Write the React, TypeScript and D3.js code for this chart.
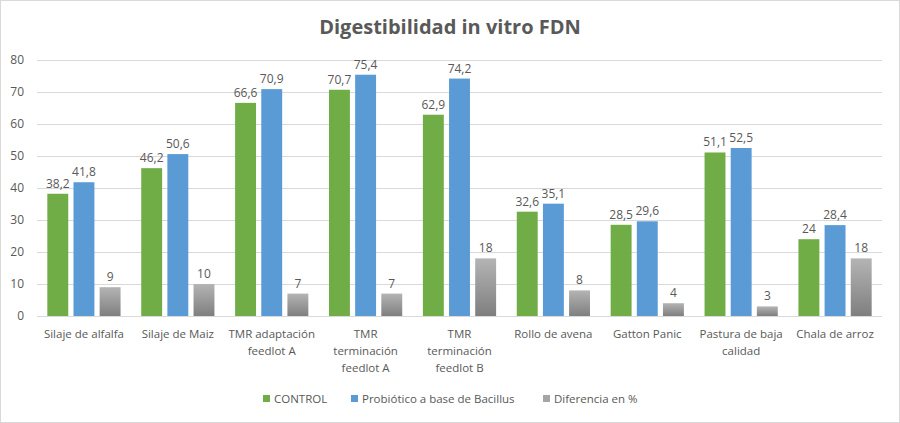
import { useEffect, useRef } from 'react';
import * as d3 from 'd3';

const categories = [
  'Silaje de alfalfa',
  'Silaje de Maiz',
  'TMR adaptación feedlot A',
  'TMR terminación feedlot A',
  'TMR terminación feedlot B',
  'Rollo de avena',
  'Gatton Panic',
  'Pastura de baja calidad',
  'Chala de arroz',
];
// how the axis labels wrap in the picture
const categoryLines = [
  ['Silaje de alfalfa'],
  ['Silaje de Maiz'],
  ['TMR adaptación', 'feedlot A'],
  ['TMR', 'terminación', 'feedlot A'],
  ['TMR', 'terminación', 'feedlot B'],
  ['Rollo de avena'],
  ['Gatton Panic'],
  ['Pastura de baja', 'calidad'],
  ['Chala de arroz'],
];

const seriesNames = ['CONTROL', 'Probiótico a base de Bacillus', 'Diferencia en %'];
const control = [38.2, 46.2, 66.6, 70.7, 62.9, 32.6, 28.5, 51.1, 24];
const probiotico = [41.8, 50.6, 70.9, 75.4, 74.2, 35.1, 29.6, 52.5, 28.4];
const diferencia = [9, 10, 7, 7, 18, 8, 4, 3, 18];
const yTicks = [0, 10, 20, 30, 40, 50, 60, 70, 80];

const W = 900;
const H = 423;
const FONT = '"Open Sans", "Noto Sans", sans-serif';
const TXT = '#595959';

export default function App() {
  const svgRef = useRef<SVGSVGElement>(null);

  useEffect(() => {
    if (!svgRef.current) return;
    const svg = d3.select(svgRef.current);
    svg.selectAll('*').remove();

    const defs = svg.append('defs');
    const grad = defs.append('linearGradient')
      .attr('id', 'grayGrad')
      .attr('x1', 0).attr('y1', 0).attr('x2', 0).attr('y2', 1);
    grad.append('stop').attr('offset', '0%').attr('stop-color', '#b4b4b4');
    grad.append('stop').attr('offset', '100%').attr('stop-color', '#7f7f7f');

    const colors = ['#70AD47', '#5B9BD5', 'url(#grayGrad)'];
    const legendColors = ['#70AD47', '#5B9BD5', '#a5a5a5'];
    const series = [control, probiotico, diferencia];

    // chart frame
    svg.append('rect')
      .attr('x', 0.5).attr('y', 0.5)
      .attr('width', W - 1).attr('height', H - 1)
      .attr('fill', '#fff')
      .attr('stroke', '#d9d9d9');

    svg.append('text')
      .attr('x', W / 2).attr('y', 34)
      .attr('text-anchor', 'middle')
      .attr('font-family', FONT)
      .attr('font-weight', 700)
      .attr('font-size', 20)
      .attr('fill', TXT)
      .text('Digestibilidad in vitro FDN');

    const x0 = d3.scaleBand<string>()
      .domain(categories)
      .range([37, 882])
      .paddingInner(0.22)
      .paddingOuter(0.11);

    const x1 = d3.scaleBand<number>()
      .domain([0, 1, 2])
      .range([0, x0.bandwidth()])
      .paddingInner(0.2);

    const y = d3.scaleLinear().domain([0, 80]).range([316, 60]);

    // grid
    svg.append('g')
      .selectAll('line')
      .data(yTicks)
      .enter()
      .append('line')
      .attr('x1', 37).attr('x2', 882)
      .attr('y1', d => Math.round(y(d)) + 0.5)
      .attr('y2', d => Math.round(y(d)) + 0.5)
      .attr('stroke', '#d9d9d9')
      .attr('stroke-width', 1);

    svg.append('g')
      .selectAll('text')
      .data(yTicks)
      .enter()
      .append('text')
      .attr('x', 24)
      .attr('y', d => y(d) + 4)
      .attr('text-anchor', 'end')
      .attr('font-family', FONT)
      .attr('font-size', 12)
      .attr('fill', TXT)
      .text(d => d);

    const fmt = (v: number) => String(v).replace('.', ',');

    series.forEach((vals, si) => {
      const g = svg.append('g');
      g.selectAll('rect')
        .data(vals)
        .enter()
        .append('rect')
        .attr('x', (_, i) => (x0(categories[i]) ?? 0) + (x1(si) ?? 0))
        .attr('y', d => y(d))
        .attr('width', x1.bandwidth())
        .attr('height', d => y(0) - y(d))
        .attr('fill', colors[si]);

      g.selectAll('text')
        .data(vals)
        .enter()
        .append('text')
        .attr('x', (_, i) => (x0(categories[i]) ?? 0) + (x1(si) ?? 0) + x1.bandwidth() / 2)
        .attr('y', d => y(d) - 6)
        .attr('text-anchor', 'middle')
        .attr('font-family', FONT)
        .attr('font-size', 12)
        .attr('fill', TXT)
        .text(d => fmt(d));
    });

    // category labels
    const xl = svg.append('g');
    categories.forEach((c, i) => {
      const cx = (x0(c) ?? 0) + x0.bandwidth() / 2;
      categoryLines[i].forEach((line, li) => {
        xl.append('text')
          .attr('x', cx)
          .attr('y', 338 + li * 17)
          .attr('text-anchor', 'middle')
          .attr('font-family', FONT)
          .attr('font-size', 11.5)
          .attr('fill', TXT)
          .text(line);
      });
    });

    // legend
    const legendX = [263, 351, 543];
    const lg = svg.append('g');
    seriesNames.forEach((name, i) => {
      lg.append('rect')
        .attr('x', legendX[i]).attr('y', 395)
        .attr('width', 7).attr('height', 7)
        .attr('fill', legendColors[i]);
      lg.append('text')
        .attr('x', legendX[i] + 11).attr('y', 403)
        .attr('font-family', FONT)
        .attr('font-size', 11.5)
        .attr('fill', TXT)
        .text(name);
    });
  }, []);

  return (
    <div style={{ position: 'fixed', left: 0, top: 0 }}>
      <svg ref={svgRef} width={W} height={H} style={{ display: 'block' }} />
    </div>
  );
}
